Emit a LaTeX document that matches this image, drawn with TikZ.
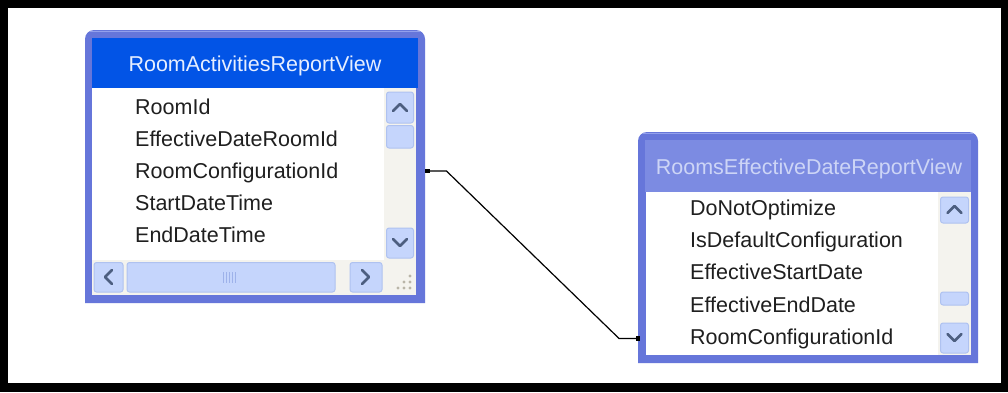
\documentclass[tikz,border=0pt]{standalone}
\usepackage{fontspec}
\setmainfont{Liberation Sans}
\usetikzlibrary{calc}
\definecolor{framecol}{HTML}{6676DA}
\definecolor{framehi}{HTML}{93A0EC}
\definecolor{acttitle}{HTML}{0254E6}
\definecolor{inacttitle}{HTML}{7C8BE2}
\definecolor{acttext}{HTML}{E6EEFF}
\definecolor{inacttext}{HTML}{CDD5F6}
\definecolor{trackcol}{HTML}{F4F3EE}
\definecolor{btnfill}{HTML}{C5D5FC}
\definecolor{btnedge}{HTML}{AFC2F0}
\definecolor{arrowcol}{HTML}{4C5E80}
\definecolor{gripcol}{HTML}{B9B5A8}
\definecolor{thumbline}{HTML}{9EB2EA}
\tikzset{
  x=1pt, y=-1pt,
  fieldtxt/.style={anchor=base west, inner sep=0pt, font=\fontsize{21.5}{24}\selectfont, text=black!88},
  titletxt/.style={anchor=base, inner sep=0pt, font=\fontsize{21.5}{24}\selectfont},
  sbtn/.style={fill=btnfill, draw=btnedge, line width=1pt, rounded corners=2.5pt},
  chev/.style={draw=arrowcol, line width=2.6pt, line cap=round, line join=round},
  tabbox/.style={inner sep=0pt, draw=none, anchor=north west},
  endmark/.style={fill=black, inner sep=0pt, minimum size=4.5pt, draw=none}
}
\begin{document}
\begin{tikzpicture}
% outer black frame
\fill[black] (0,0) rectangle (1008,392);
\fill[white] (8,8) rectangle (1001,383);
\useasboundingbox (0,0) rectangle (1008,392);

% ================= left table =================
\node[tabbox, minimum width=340pt, minimum height=273pt] (T1) at (85,30) {};
\fill[framecol] (85,303) [rounded corners=9pt] -- (85,30) -- (425,30) [sharp corners] -- (425,303) -- cycle;
\draw[framehi, line width=1.5pt] (90,31.5) -- (420,31.5);
\fill[acttitle] (92,38) rectangle (418,88);
\node[titletxt, text=acttext] (t1) at (255,71.5) {RoomActivitiesReportView};
% body
\fill[white] (92,88) rectangle (384,260);
\begin{scope}
\clip (92,88) rectangle (384,260);
\node[fieldtxt] (l1) at (135,114.5) {RoomId};
\node[fieldtxt] (l2) at (135,146) {EffectiveDateRoomId};
\node[fieldtxt] (l3) at (135,178) {RoomConfigurationId};
\node[fieldtxt] (l4) at (135,210.5) {StartDateTime};
\node[fieldtxt] (l5) at (135,242.5) {EndDateTime};
\end{scope}
% vertical scrollbar
\fill[trackcol] (384,88) rectangle (416,260);
\draw[sbtn] (386.5,92) rectangle (413.5,123);
\draw[chev] (393,111) -- (400,104) -- (407,111);
\draw[sbtn] (386.5,125.5) rectangle (413.5,148);
\draw[sbtn] (386.5,228) rectangle (413.5,258);
\draw[chev] (393,239) -- (400,246) -- (407,239);
% horizontal scrollbar
\fill[trackcol] (92,260) rectangle (416,295);
\draw[sbtn] (94,262.5) rectangle (123,292);
\draw[chev] (112,270) -- (105,277) -- (112,284);
\draw[sbtn] (127,262.5) rectangle (335,292);
\foreach \xx in {223,226,229,232,235} \draw[thumbline, line width=1pt] (\xx,272) -- (\xx,283);
\draw[sbtn] (350,262.5) rectangle (382,292);
\draw[chev] (362,270) -- (369,277) -- (362,284);
% grip dots
\foreach \p in {(410,282),(410,288),(404,288),(398,288),(404,282),(410,276)}
  \fill[gripcol] \p circle (1.6pt);

% ================= right table =================
\node[tabbox, minimum width=340pt, minimum height=231pt] (T2) at (638,132) {};
\fill[framecol] (638,363) [rounded corners=9pt] -- (638,132) -- (978,132) [sharp corners] -- (978,363) -- cycle;
\draw[framehi, line width=1.5pt] (643,133.5) -- (973,133.5);
\fill[inacttitle] (645,140) rectangle (971,192);
\node[titletxt, text=inacttext] (t2) at (809,174.5) {RoomsEffectiveDateReportView};
\fill[white] (646,192) rectangle (938,355);
\node[fieldtxt] (r1) at (690,215) {DoNotOptimize};
\node[fieldtxt] (r2) at (690,247) {IsDefaultConfiguration};
\node[fieldtxt] (r3) at (690,279) {EffectiveStartDate};
\node[fieldtxt] (r4) at (690,312) {EffectiveEndDate};
\node[fieldtxt] (r5) at (690,344) {RoomConfigurationId};
\fill[trackcol] (938,192) rectangle (971,355);
\draw[sbtn] (940.5,197) rectangle (968.5,223);
\draw[chev] (947.5,213) -- (954.5,206) -- (961.5,213);
\draw[sbtn] (940.5,292) rectangle (968.5,305);
\draw[sbtn] (940.5,323) rectangle (968.5,353);
\draw[chev] (947.5,334) -- (954.5,341) -- (961.5,334);

% ================= connector =================
\coordinate (ca) at ($(T1.east |- l3.center)+(2,-1.5)$);
\coordinate (cb) at (T2.west |- r5.center);
\draw[black, line width=1.2pt] (ca) -- ++(19,0) -- ($(cb)+(-19,0)$) -- (cb);
\node[endmark] (ma) at (ca) {};
\node[endmark] (mb) at (cb) {};
\end{tikzpicture}
\end{document}
